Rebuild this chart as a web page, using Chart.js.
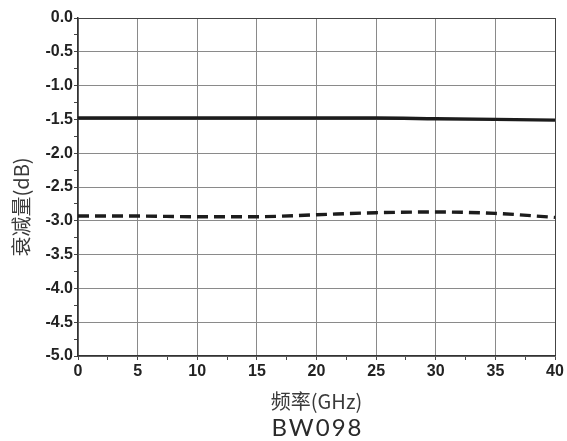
<!DOCTYPE html>
<html>
<head>
<meta charset="utf-8">
<script src="https://cdn.jsdelivr.net/npm/chart.js@4.4.1/dist/chart.umd.min.js"></script>
<style>
  html, body { margin: 0; padding: 0; background: #fff; }
  #wrap { width: 567px; height: 441px; }
</style>
</head>
<body>
<div id="wrap"><canvas id="lossChart" width="567" height="441"></canvas></div>
<script>
// frequency points (GHz) and attenuation (dB)
const freqGHz = [0, 5, 10, 15, 20, 25, 30, 35, 40];
const lossSolid = [-1.48, -1.48, -1.48, -1.48, -1.48, -1.48, -1.49, -1.50, -1.51];
const lossDashed = [-2.93, -2.93, -2.94, -2.94, -2.91, -2.88, -2.87, -2.89, -2.95];

const xTitle = "频率(GHz)";
const yTitle = "衰减量(dB)";
const modelName = "BW098";

const tickFont = { family: "'Liberation Sans', Arial, sans-serif", size: 16, weight: "bold" };
const cjkFont = { family: "'Noto Sans CJK SC', sans-serif", size: 20, weight: "normal" };

const toPoints = ys => freqGHz.map((x, i) => ({ x, y: ys[i] }));

const isMajor = (v, step) => Math.abs(v / step - Math.round(v / step)) < 1e-6;

// model name under the axis title, centred on the plot
const modelLabel = {
  id: "modelLabel",
  afterDraw(chart) {
    const ctx = chart.ctx;
    const area = chart.chartArea;
    ctx.save();
    ctx.font = "400 24px Lato, 'Noto Sans', sans-serif";
    ctx.letterSpacing = "2px";
    ctx.fillStyle = "#2a2a2a";
    ctx.textAlign = "center";
    ctx.textBaseline = "middle";
    ctx.fillText(modelName, (area.left + area.right) / 2 + 1, 428);
    ctx.restore();
  },
};

new Chart(document.getElementById("lossChart").getContext("2d"), {
  type: "line",
  data: {
    datasets: [
      {
        data: toPoints(lossSolid),
        borderColor: "#1c1c1c",
        borderWidth: 3.4,
        pointRadius: 0,
        cubicInterpolationMode: "monotone",
      },
      {
        data: toPoints(lossDashed),
        borderColor: "#1c1c1c",
        borderWidth: 3.4,
        borderDash: [11, 6],
        pointRadius: 0,
        cubicInterpolationMode: "monotone",
      },
    ],
  },
  plugins: [modelLabel],
  options: {
    responsive: false,
    animation: false,
    layout: { padding: { top: 18, right: 12, left: 0, bottom: 28 } },
    plugins: {
      legend: { display: false },
      tooltip: { enabled: false },
    },
    scales: {
      x: {
        type: "linear",
        min: 0,
        max: 40,
        afterFit: s => { s.height = 57; },
        ticks: {
          stepSize: 2.5,
          autoSkip: false,
          maxRotation: 0,
          color: "#222",
          font: tickFont,
          padding: 2,
          callback: v => (isMajor(v, 5) ? String(v) : ""),
        },
        grid: {
          color: c => (c.tick && isMajor(c.tick.value, 5) ? (c.tick.value === 40 ? "#444" : "#8a8a8a") : "rgba(0,0,0,0)"),
          tickColor: "#444",
          tickLength: 4,
          lineWidth: 1,
        },
        border: { color: "#333", width: 1.5 },
        title: {
          display: true,
          text: xTitle,
          color: "#3a3a3a",
          font: cjkFont,
          padding: { top: 0, bottom: 0 },
        },
      },
      y: {
        min: -5,
        max: 0,
        afterFit: s => { s.width = 78; },
        ticks: {
          stepSize: 0.25,
          autoSkip: false,
          color: "#222",
          font: tickFont,
          padding: 1,
          callback: v => (isMajor(v, 0.5) ? (v === 0 ? "0.0" : v.toFixed(1)) : ""),
        },
        grid: {
          color: c => (c.tick && isMajor(c.tick.value, 0.5) ? (c.tick.value === 0 ? "#444" : "#8a8a8a") : "rgba(0,0,0,0)"),
          tickColor: "#444",
          tickLength: 4,
          lineWidth: 1,
        },
        border: { color: "#333", width: 1.5 },
        title: {
          display: true,
          text: yTitle + "\u2003\u2003",
          color: "#3a3a3a",
          font: cjkFont,
          padding: { top: 9, bottom: 0 },
        },
      },
    },
  },
});
</script>
</body>
</html>
